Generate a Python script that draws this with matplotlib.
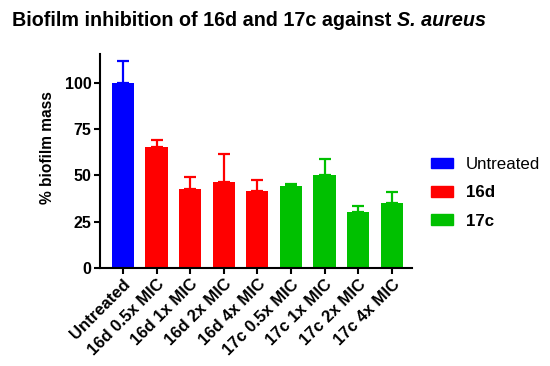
import matplotlib
matplotlib.use("Agg")
import matplotlib.pyplot as plt
from matplotlib.patches import Patch

plt.rcParams['font.family'] = ['Liberation Sans', 'DejaVu Sans']

categories = ["Untreated", "16d 0.5x MIC", "16d 1x MIC", "16d 2x MIC", "16d 4x MIC",
              "17c 0.5x MIC", "17c 1x MIC", "17c 2x MIC", "17c 4x MIC"]
values = [100, 65, 42.3, 46.3, 41.4, 44.3, 49.9, 29.9, 35.0]
errors = [11.4, 4.0, 6.5, 15.1, 6.1, 0.9, 8.6, 3.6, 6.0]
groups = ["Untreated", "16d", "16d", "16d", "16d", "17c", "17c", "17c", "17c"]
group_colors = {"Untreated": "#0000ff", "16d": "#ff0000", "17c": "#00c000"}
yticks = [0, 25, 50, 75, 100]

fig = plt.figure(figsize=(5.5, 3.66), dpi=100)
ax = fig.add_axes([0.182, 0.268, 0.567, 0.585])

x = list(range(len(categories)))
colors = [group_colors[g] for g in groups]
ax.bar(x, values, width=0.66, color=colors, zorder=2)
for xi, v, e, c in zip(x, values, errors, colors):
    ax.errorbar(xi, v, yerr=[[0], [e]], fmt='none', ecolor=c, elinewidth=1.6,
                capsize=4.5, capthick=1.6, zorder=1)

ax.set_xlim(-0.68, 8.6)
ax.set_ylim(0, 115.5)
ax.set_yticks(yticks)
ax.set_xticks(x)
ax.set_xticklabels(categories, rotation=45, ha='right', rotation_mode='anchor',
                   fontweight='bold', fontsize=12)
for lbl in ax.get_yticklabels():
    lbl.set_fontweight('bold')
    lbl.set_fontsize(11.5)
ax.set_ylabel("% biofilm mass", fontweight='bold', fontsize=11.2)
ax.yaxis.set_label_coords(-0.145, 0.56)

for s in ['top', 'right']:
    ax.spines[s].set_visible(False)
for s in ['left', 'bottom']:
    ax.spines[s].set_linewidth(1.5)
ax.tick_params(width=1.5, length=4.3, direction='out', pad=2)

t = fig.text(0.022, 0.945, "Biofilm inhibition of 16d and 17c against ", fontsize=14.2,
             fontweight='bold', va='center', ha='left')
fig.canvas.draw()
bb = t.get_window_extent()
fig.text(bb.x1 / fig.bbox.width, 0.945, "S. aureus", fontsize=14.2, fontweight='bold',
         style='italic', va='center', ha='left')

handles = [Patch(color=group_colors[k]) for k in ["Untreated", "16d", "17c"]]
leg = fig.legend(handles, ["Untreated", "16d", "17c"], loc='center left',
                 bbox_to_anchor=(0.755, 0.473), frameon=False, fontsize=12.2,
                 handlelength=1.3, handleheight=0.57, labelspacing=0.78,
                 handletextpad=0.8, borderpad=0.4)
for i, txt in enumerate(leg.get_texts()):
    if i > 0:
        txt.set_fontweight('bold')

fig.savefig("out.png", dpi=100)
